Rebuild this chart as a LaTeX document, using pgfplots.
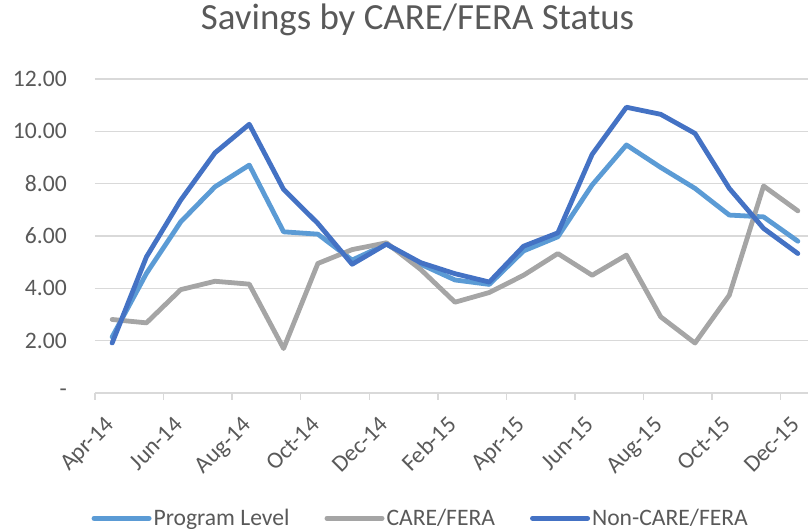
\documentclass[border=0pt]{standalone}
\usepackage{fontspec}
\setmainfont{Carlito}
\usepackage{pgfplots}
\pgfplotsset{compat=1.18}

\definecolor{prog}{HTML}{5B9BD5}
\definecolor{care}{HTML}{A5A5A5}
\definecolor{noncare}{HTML}{4472C4}
\definecolor{gridgray}{HTML}{D9D9D9}
\definecolor{txt}{HTML}{595959}

% monthly savings, Apr-14 .. Dec-15 at x = 0..20
\pgfplotstableread{
x prog care noncare
0  2.14 2.81 1.91
1  4.57 2.68 5.20
2  6.54 3.95 7.37
3  7.88 4.27 9.18
4  8.71 4.16 10.27
5  6.16 1.70 7.78
6  6.07 4.95 6.48
7  5.08 5.48 4.92
8  5.69 5.74 5.69
9  4.92 4.72 4.98
10 4.32 3.47 4.56
11 4.15 3.84 4.24
12 5.43 4.50 5.61
13 5.97 5.33 6.12
14 7.95 4.50 9.12
15 9.48 5.27 10.92
16 8.62 2.91 10.65
17 7.82 1.91 9.92
18 6.80 3.74 7.82
19 6.73 7.91 6.29
20 5.80 6.96 5.33
}\savings

\begin{document}
\begin{tikzpicture}
\begin{axis}[
  at={(0,0)}, anchor=south west,
  scale only axis,
  width=720pt, height=314pt,
  xmin=-0.5, xmax=20.5,
  ymin=0, ymax=12,
  axis line style={draw=none},
  ymajorgrids=true,
  grid style={gridgray, line width=1.3pt},
  ytick={0,2,...,12},
  yticklabels={-\hspace{10pt}, 2.00, 4.00, 6.00, 8.00, 10.00, 12.00},
  yticklabel style={font=\fontsize{23.6}{28}\selectfont, text=txt, inner sep=0pt, xshift=-28pt},
  xtick={0,2,...,20},
  xticklabels={Apr-14,Jun-14,Aug-14,Oct-14,Dec-14,Feb-15,Apr-15,Jun-15,Aug-15,Oct-15,Dec-15},
  xticklabel style={font=\fontsize{23.6}{28}\selectfont, text=txt, inner sep=0pt,
                    anchor=base east, xshift=3pt, yshift=-33pt, rotate=45},
  xtick pos=lower,
  major tick length=0pt,
  tick align=outside,
  extra x ticks={-0.5,1.5,...,19.5},
  extra x tick labels={},
  extra x tick style={major tick length=7pt, tick style={gridgray, line width=1.3pt}},
  title={Savings by CARE/FERA Status},
  title style={font=\fontsize{36.9}{42}\selectfont, text=txt, at={(0.448,1)},
               anchor=base, yshift=43.3pt, inner sep=0pt},
  legend style={at={(0.4524,-0.399)}, anchor=center, draw=none, fill=none,
                font=\fontsize{23.6}{28}\selectfont, text=txt,
                /tikz/every even column/.append style={column sep=33pt},
                nodes={inner sep=2pt}},
  legend columns=3,
  legend image code/.code={\draw[#1, line width=5pt] (0pt,0pt) -- (55pt,0pt);},
  every axis plot/.append style={line width=4.8pt, line join=round, line cap=round},
]
\addplot[prog] table[x=x, y=prog] {\savings};
\addlegendentry{Program Level}
\addplot[care] table[x=x, y=care] {\savings};
\addlegendentry{CARE/FERA}
\addplot[noncare] table[x=x, y=noncare] {\savings};
\addlegendentry{Non-CARE/FERA}
\end{axis}
\pgfresetboundingbox
\path[use as bounding box] (-95pt,-136pt) rectangle (713pt,393pt);
\end{tikzpicture}
\end{document}
